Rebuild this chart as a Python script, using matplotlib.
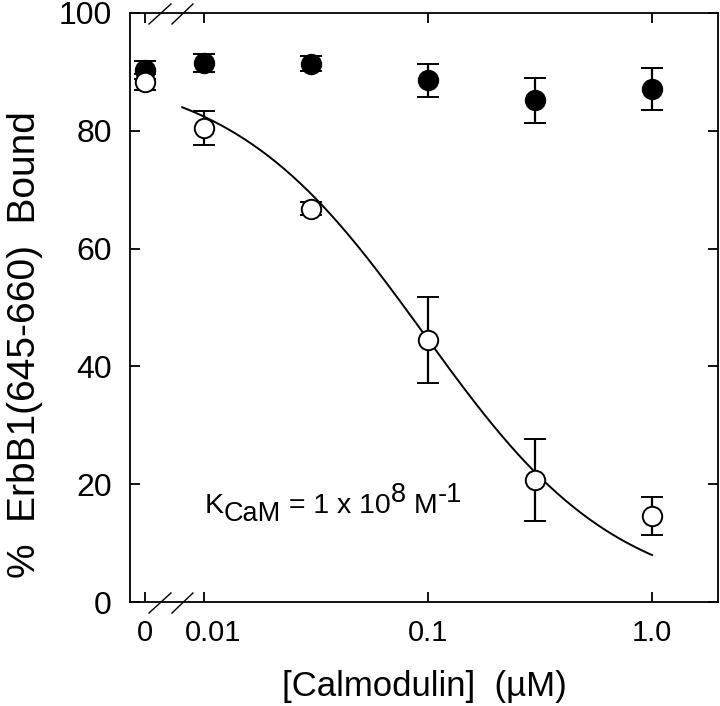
import numpy as np
import matplotlib
matplotlib.use("Agg")
import matplotlib.pyplot as plt
from matplotlib.transforms import ScaledTranslation

plt.rcParams['font.family'] = ['Liberation Sans', 'DejaVu Sans']

# ---- data (concentration in uM; 0 = no calmodulin) ----
conc = [0, 0.01, 0.03, 0.1, 0.3, 1.0]
filled_vals = [90.3, 91.5, 91.4, 88.6, 85.2, 87.1]
filled_err = [1.5, 1.5, 1.3, 2.8, 3.8, 3.5]
open_vals = [88.3, 80.5, 66.8, 44.5, 20.7, 14.6]
open_err = [1.3, 2.9, 1.1, 7.3, 7.0, 3.2]

xtick_vals = [0, 0.01, 0.1, 1.0]
xtick_labels = ['0', '0.01', '0.1', '1.0']
ytick_vals = [0, 20, 40, 60, 80, 100]

# fitted curve parameters
fit_top = 91.0
fit_ic50 = 0.096
fit_start, fit_end = 0.0080, 1.0

# display position used for the "0" concentration on the broken log axis
zero_pos = 0.00546
xlim = (0.004677, 1.97)


def xpos(values):
    return [zero_pos if v == 0 else v for v in values]


fig = plt.figure(figsize=(7.2, 7.06), dpi=100)
ax = fig.add_axes([130/720, 104/706, 588/720, 589/706])
ax.set_xscale('log')

xf = np.logspace(np.log10(fit_start), np.log10(fit_end), 300)
ax.plot(xf, fit_top / (1 + xf / fit_ic50), color='black', lw=1.4, zorder=2)

ekw = dict(fmt='o', color='black', ecolor='black', elinewidth=1.6,
           capsize=8, capthick=1.6, markersize=14, markeredgewidth=1.4)
ax.errorbar(xpos(conc), filled_vals, yerr=filled_err, markerfacecolor='black',
            zorder=3, **ekw)
ax.errorbar(xpos(conc), open_vals, yerr=open_err, markerfacecolor='white',
            zorder=4, **ekw)

ax.set_xlim(*xlim)
ax.set_ylim(0, 100)
ax.set_xticks(xpos(xtick_vals))
ax.set_xticklabels(xtick_labels)
ax.minorticks_off()
ax.set_yticks(ytick_vals)
ax.tick_params(direction='in', top=True, right=True, length=7, width=1.3)
ax.tick_params(axis='y', pad=13, labelsize=23)
ax.tick_params(axis='x', pad=12, labelsize=21)
for s in ax.spines.values():
    s.set_linewidth(1.3)

# shift the "0.01" label slightly right, away from the break marks
lbl = ax.get_xticklabels()[1]
lbl.set_transform(lbl.get_transform() + ScaledTranslation(9/100, 0, fig.dpi_scale_trans))

# axis break marks
for y0 in (0.0, 1.0):
    for xa, xb in ((0.0323, 0.0697), (0.0714, 0.107)):
        ax.plot([xa, xb], [y0 - 0.0187, y0 + 0.0153], transform=ax.transAxes,
                color='black', lw=1.0, clip_on=False, zorder=5)

ax.set_xlabel('[Calmodulin]  (\u00b5M)', fontsize=25, labelpad=17)
ax.set_ylabel('%  ErbB1(645-660)  Bound', fontsize=28)
ax.yaxis.set_label_coords(-0.1472, 0.437)

# K_CaM annotation built from pieces (main text, subscript, superscripts)
pieces = [('K', 20.5, 0), ('CaM', 19.5, -8), (' = 1 x 10', 20.5, 0),
          ('8', 19.5, 11), (' M', 20.5, 0), ('-1', 19.5, 11)]
renderer = fig.canvas.get_renderer()
x_px, base_px = 205.0, 706 - 513
for s, size, dy in pieces:
    t = fig.text(x_px / 720, (base_px + dy) / 706, s, fontsize=size,
                 ha='left', va='baseline')
    x_px = t.get_window_extent(renderer).x1

fig.savefig('out.png', dpi=100)
